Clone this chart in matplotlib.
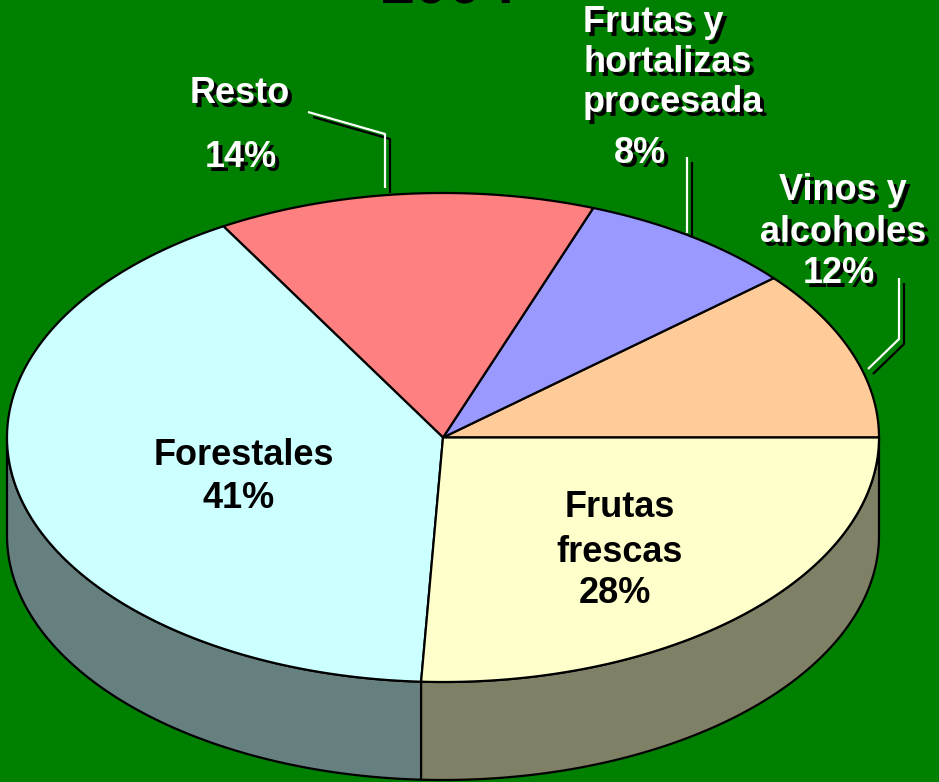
import matplotlib
matplotlib.use("Agg")
import matplotlib.pyplot as plt
import numpy as np
from matplotlib.patches import Polygon

# ---- data ----
categories = ["Vinos y alcoholes", "Frutas y hortalizas procesada", "Resto", "Forestales", "Frutas frescas"]
shares = [11.3, 8.1, 14.0, 40.8, 25.8]          # slice sizes
pct_labels = ["12%", "8%", "14%", "41%", "28%"]   # printed labels
colors = ["#FFCC99", "#9999FF", "#FF8080", "#CCFFFF", "#FFFFCC"]
title = "2004"

W, H = 939, 782
fig = plt.figure(figsize=(W / 100, H / 100), dpi=100)
fig.patch.set_facecolor("#008000")
ax = fig.add_axes([0, 0, 1, 1])
ax.set_xlim(0, W)
ax.set_ylim(H, 0)
ax.axis("off")
ax.set_facecolor("#008000")

cx, cy, rx, ry, depth = 443, 437.5, 436, 244.5, 98
EC = "black"
LW = 1.6


def pt(a, dz=0.0):
    r = np.radians(a)
    return cx + rx * np.cos(r), cy - ry * np.sin(r) + dz


def darker(c, f=0.5):
    rgb = np.array(matplotlib.colors.to_rgb(c)) * f
    return rgb


tot = sum(shares)
starts = np.concatenate([[0], np.cumsum(shares)[:-1]]) / tot * 360
ends = np.cumsum(shares) / tot * 360

# side walls (front half: 180..360 deg)
for a0, a1, col in zip(starts, ends, colors):
    lo, hi = max(a0, 180), min(a1, 360)
    if hi <= lo:
        continue
    ts = np.linspace(lo, hi, 120)
    top = [pt(t) for t in ts]
    bot = [pt(t, depth) for t in ts[::-1]]
    ax.add_patch(Polygon(top + bot, closed=True, facecolor=darker(col), edgecolor=EC, lw=LW, zorder=1))

# top faces
for a0, a1, col in zip(starts, ends, colors):
    ts = np.linspace(a0, a1, 200)
    verts = [(cx, cy)] + [pt(t) for t in ts]
    ax.add_patch(Polygon(verts, closed=True, facecolor=col, edgecolor=EC, lw=LW, zorder=2, joinstyle="round"))

FS = 26
FONT = "Liberation Sans"


def shadow_text(x, y, s, ha="center", size=FS):
    ax.text(x + 4, y + 4, s, color="black", fontsize=size, fontweight="bold", family=FONT,
            ha=ha, va="baseline", zorder=5)
    ax.text(x, y, s, color="white", fontsize=size, fontweight="bold", family=FONT,
            ha=ha, va="baseline", zorder=6)


def plain_text(x, y, s):
    ax.text(x, y, s, color="black", fontsize=FS, fontweight="bold", family=FONT,
            ha="center", va="baseline", zorder=6)


def leader(xs, ys):
    ax.plot(np.array(xs) + 5, np.array(ys) + 5, color="black", lw=1.6, zorder=3, solid_capstyle="butt")
    ax.plot(xs, ys, color="white", lw=1.6, zorder=4, solid_capstyle="butt")


# outside labels
shadow_text(240, 103, "Resto")
shadow_text(241, 167, pct_labels[2])
leader([308, 385, 385], [112, 134, 188])

shadow_text(583, 32, "Frutas y", ha="left")
shadow_text(583, 72, "hortalizas", ha="left")
shadow_text(583, 112, "procesada", ha="left")
shadow_text(640, 163, pct_labels[1])
leader([687, 687], [157, 233])

shadow_text(843, 200, "Vinos y")
shadow_text(843, 242, "alcoholes")
shadow_text(839, 283, pct_labels[0])
leader([899, 899, 868], [278, 339, 369])

# inside labels
plain_text(244, 465, "Forestales")
plain_text(239, 508, pct_labels[3])
plain_text(620, 517, "Frutas")
plain_text(620, 562, "frescas")
plain_text(615, 603, pct_labels[4])

# title (mostly cut off at top of the picture, as in the original)
ax.text(449, 4, title, color="black", fontsize=44, fontweight="bold", family=FONT,
        ha="center", va="baseline", zorder=6)

fig.savefig("out.png", dpi=100, facecolor=fig.get_facecolor())
